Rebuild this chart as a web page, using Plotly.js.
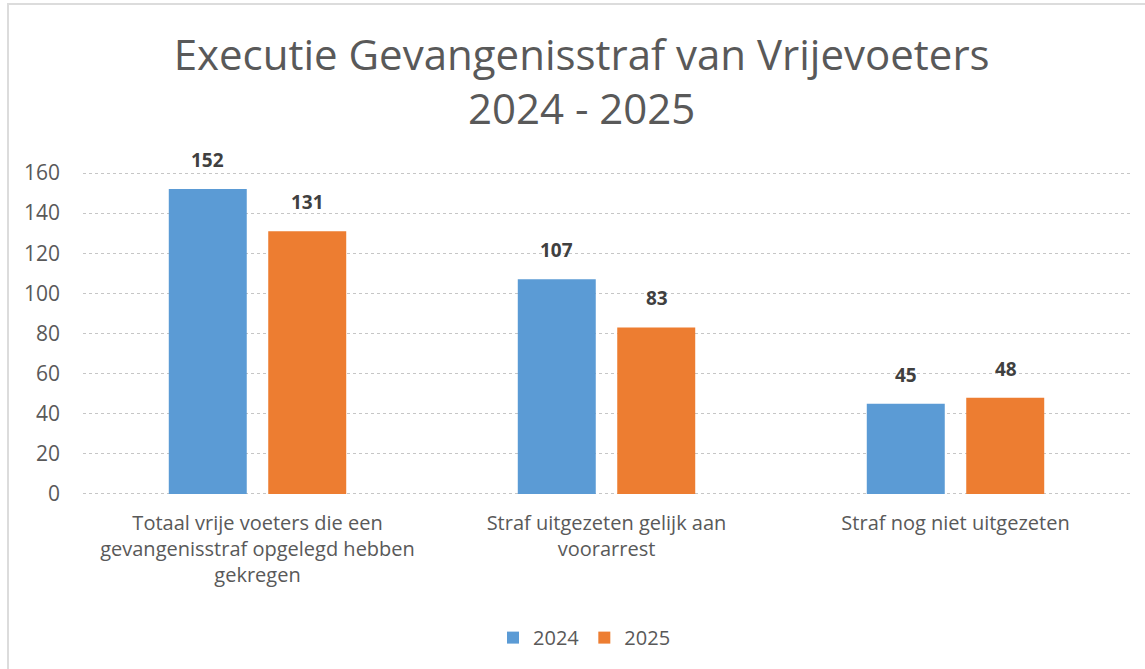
<!DOCTYPE html>
<html>
<head>
<meta charset="utf-8">
<script src="https://cdn.plot.ly/plotly-3.0.1.min.js"></script>
<style>
  html, body { margin: 0; padding: 0; background: #fff; }
  #wrap { position: relative; width: 1145px; height: 669px; overflow: hidden; }
  #chart { position: absolute; left: 0; top: 0; width: 1145px; height: 669px; }
  #frame { position: absolute; left: 7px; top: 3px; width: 1145px; height: 669px;
           border-top: 2px solid #dcdcdc; border-left: 2px solid #dcdcdc; pointer-events: none; }
</style>
</head>
<body>
<div id="wrap">
  <div id="chart"></div>
  <div id="frame"></div>
</div>
<script>
const categories = [
  "Totaal vrije voeters die een gevangenisstraf opgelegd hebben gekregen",
  "Straf uitgezeten gelijk aan voorarrest",
  "Straf nog niet uitgezeten"
];
const tickLabels = [
  "Totaal vrije voeters die een<br>gevangenisstraf opgelegd hebben<br>gekregen",
  "Straf uitgezeten gelijk aan<br>voorarrest",
  "Straf nog niet uitgezeten"
];
const values2024 = [152, 107, 45];
const values2025 = [131, 83, 48];
const seriesNames = ["2024", "2025"];
const yTicks = [0, 20, 40, 60, 80, 100, 120, 140, 160];

const FONT = "Open Sans, sans-serif";
const colors = ["#5B9BD5", "#ED7D31"];
const allSeries = [values2024, values2025];
const shifts = [-50, 50];

const traces = allSeries.map((vals, i) => ({
  type: "bar",
  name: seriesNames[i],
  x: categories,
  y: vals,
  marker: { color: colors[i] },
  hoverinfo: "x+y+name"
}));

const annotations = [];
allSeries.forEach((vals, i) => {
  vals.forEach((v, j) => {
    annotations.push({
      x: categories[j], y: v, xref: "x", yref: "y",
      text: "<b>" + v + "</b>", showarrow: false,
      xanchor: "center", yanchor: "bottom",
      xshift: shifts[i], yshift: 14,
      font: { family: FONT, size: 19, color: "#404040" }
    });
  });
});

const layout = {
  width: 1145, height: 669,
  paper_bgcolor: "rgba(0,0,0,0)", plot_bgcolor: "rgba(0,0,0,0)",
  margin: { l: 83, r: 15, t: 170, b: 172 },
  title: {
    text: "Executie Gevangenisstraf van Vrijevoeters<br>2024 - 2025",
    font: { family: FONT, size: 42, color: "#595959" },
    x: 0.508, xanchor: "center", y: 0.896, yanchor: "middle"
  },
  barmode: "group",
  bargap: 0.43,
  bargroupgap: 0.216,
  xaxis: {
    type: "category",
    tickvals: categories, ticktext: tickLabels,
    showgrid: false, showline: false, ticks: "",
    ticklabelstandoff: 12,
    tickfont: { family: FONT, size: 20, color: "#595959" }
  },
  yaxis: {
    range: [-1.5, 161.5], tickvals: yTicks,
    showgrid: true, gridcolor: "#c6c6c6", griddash: "dot", gridwidth: 1,
    zeroline: false, showline: false, ticks: "",
    ticklabelstandoff: 22,
    tickfont: { family: FONT, size: 21, color: "#595959" }
  },
  legend: {
    orientation: "h", x: 0.479, xanchor: "center", y: -0.43, yanchor: "middle",
    font: { family: FONT, size: 20, color: "#595959" },
    itemwidth: 30, tracegroupgap: 0
  },
  annotations: annotations,
  showlegend: true
};

Plotly.newPlot("chart", traces, layout, { displayModeBar: false, staticPlot: true });
</script>
</body>
</html>
